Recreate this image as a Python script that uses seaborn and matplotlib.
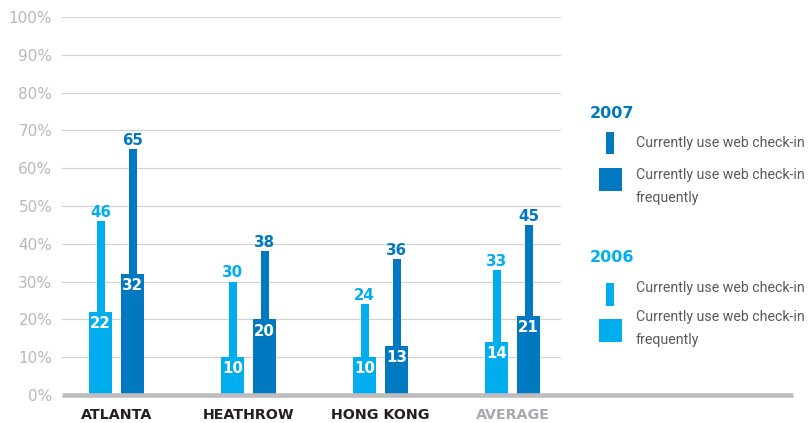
import matplotlib
matplotlib.use("Agg")
import matplotlib.pyplot as plt
from matplotlib.patches import Rectangle
import pandas as pd
import seaborn as sns

# Survey results (% of passengers)
cities = ["ATLANTA", "HEATHROW", "HONG KONG", "AVERAGE"]
years = ["2006", "2007"]
use_2006 = [46, 30, 24, 33]
use_2007 = [65, 38, 36, 45]
frequent_2006 = [22, 10, 10, 14]
frequent_2007 = [32, 20, 13, 21]
y_ticks = [0, 10, 20, 30, 40, 50, 60, 70, 80, 90, 100]
y_tick_labels = [f"{t}%" for t in y_ticks]
legend_use = "Currently use web check-in"
legend_frequent = "Currently use web check-in\nfrequently"

LIGHT = "#00AEEF"
DARK = "#0079C1"
palette = {"2006": LIGHT, "2007": DARK}

df = pd.DataFrame({
    "city": cities * 2,
    "year": ["2006"] * 4 + ["2007"] * 4,
    "use": use_2006 + use_2007,
    "frequent": frequent_2006 + frequent_2007,
})

sns.set_theme(style="white")
plt.rcParams["font.family"] = ["DejaVu Sans"]

W, H = 809, 423
fig = plt.figure(figsize=(W / 100, H / 100), dpi=100)
ax_left, ax_right, ax_bottom, ax_top = 62, 793, 395, 17
ax = fig.add_axes([ax_left / W, (H - ax_bottom) / H,
                   (ax_right - ax_left) / W, (ax_bottom - ax_top) / H])

common = dict(data=df, x="city", hue="year", order=cities, hue_order=years,
              palette=palette, saturation=1, errorbar=None, legend=False,
              linewidth=0, width=0.485, ax=ax)
# thin bars: all current users
sns.barplot(y="use", gap=0.75, zorder=2, **common)
# wide bars: frequent users
sns.barplot(y="frequent", gap=0.28, zorder=3, **common)

ax.set_ylim(0, 100)
ax.set_xlim(-0.413, 5.125)
ax.set_xlabel("")
ax.set_ylabel("")
for s in ax.spines.values():
    s.set_visible(False)

# gridlines and baseline
grid_end = (560 - ax_left) / (ax_right - ax_left)
for t in y_ticks[1:]:
    ax.axhline(t, xmin=0, xmax=grid_end, color="#d3d3d3", lw=0.9, zorder=1)
ax.axhline(0, xmin=0, xmax=1, color="#bdbdc0", lw=3.3, zorder=5, clip_on=False,
           solid_capstyle="butt")

ax.set_yticks(y_ticks)
ax.set_yticklabels(y_tick_labels, fontsize=11, color="#b8b8b8")
ax.tick_params(axis="y", length=0, pad=7)
ax.set_xticks(range(len(cities)))
ax.set_xticklabels(cities, fontsize=10.3, fontweight="bold", color="#231f20")
ax.get_xticklabels()[-1].set_color("#a7a9ac")
ax.tick_params(axis="x", length=0, pad=9)

# value labels
thin = ax.containers[:2]
wide = ax.containers[2:]
for cont, color in zip(thin, [LIGHT, DARK]):
    for p in cont:
        ax.annotate(f"{p.get_height():.0f}", (p.get_x() + p.get_width() / 2, p.get_height()),
                    xytext=(0, 1), textcoords="offset points", ha="center", va="bottom",
                    fontsize=10.8, fontweight="bold", color=color, zorder=6)
for cont in wide:
    for p in cont:
        ax.annotate(f"{p.get_height():.0f}", (p.get_x() + p.get_width() / 2, p.get_height()),
                    xytext=(0, -3), textcoords="offset points", ha="center", va="top",
                    fontsize=10.8, fontweight="bold", color="white", zorder=6)

# legend blocks drawn in figure pixel coordinates
def fx(x):
    return x / W

def fy(y):
    return (H - y) / H

legend_font = ["Roboto", "DejaVu Sans"]

def legend_block(year, color, y_title, thin_box, wide_box, y_text1, y_text2):
    fig.text(fx(590), fy(y_title), year, fontsize=11.5, fontweight="bold", color=color,
             ha="left", va="center")
    x0, y0, x1, y1 = thin_box
    fig.patches.append(Rectangle((fx(x0), fy(y1)), fx(x1) - fx(x0), fy(y0) - fy(y1),
                                 transform=fig.transFigure, color=color, lw=0))
    x0, y0, x1, y1 = wide_box
    fig.patches.append(Rectangle((fx(x0), fy(y1)), fx(x1) - fx(x0), fy(y0) - fy(y1),
                                 transform=fig.transFigure, color=color, lw=0))
    fig.text(fx(636), fy(y_text1), legend_use, fontsize=10.2, family=legend_font,
             color="#5a5a5a", ha="left", va="center")
    fig.text(fx(636), fy(y_text2), legend_frequent, fontsize=10.2, family=legend_font,
             color="#5a5a5a", ha="left", va="top", linespacing=1.8)

legend_block("2007", DARK, 114, (606, 132, 614, 154), (599, 168, 622, 191), 143, 168)
legend_block("2006", LIGHT, 258, (606, 283, 614, 306), (599, 319, 622, 342), 288, 310)

fig.savefig("out.png", dpi=100, facecolor="white")
